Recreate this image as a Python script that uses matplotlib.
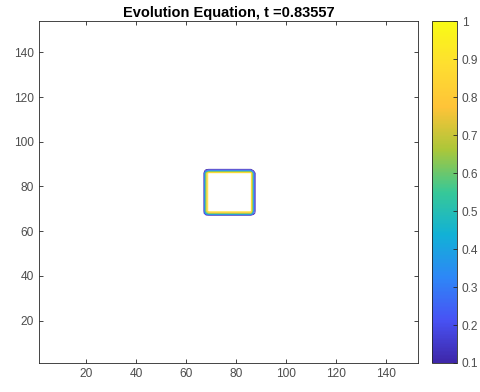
import numpy as np
import matplotlib
matplotlib.use("Agg")
import matplotlib.pyplot as plt
from matplotlib.colors import LinearSegmentedColormap, Normalize
import matplotlib.cm as cm

# grid and square
n_grid = 153
sq_lo = 67.8   # left / bottom edge of the square (grid units)
sq_hi = 86.8   # right / top edge
edge_w = 1.2   # width of the ramp at the edge
levels = [0.1, 0.2, 0.3, 0.4, 0.5, 0.6, 0.7, 0.8, 0.9]
cbar_ticks = [0.1, 0.2, 0.3, 0.4, 0.5, 0.6, 0.7, 0.8, 0.9, 1]
xticks = [20, 40, 60, 80, 100, 120, 140]
yticks = [20, 40, 60, 80, 100, 120, 140]
title = "Evolution Equation, t =0.83557"

# parula-ish colormap
parula_pts = [
    (0.2422, 0.1504, 0.6603),
    (0.2810, 0.3228, 0.9579),
    (0.1786, 0.5289, 0.9682),
    (0.0689, 0.6948, 0.8394),
    (0.2161, 0.7843, 0.5923),
    (0.6720, 0.7793, 0.2227),
    (0.9970, 0.7659, 0.2199),
    (0.9952, 0.8717, 0.1870),
    (0.9769, 0.9839, 0.0805),
]
parula = LinearSegmentedColormap.from_list("parula", parula_pts)

g = np.arange(1, n_grid + 1)
prof = np.clip((g - sq_lo) / edge_w + 0.5, 0, 1) * np.clip((sq_hi - g) / edge_w + 0.5, 0, 1)
X, Y = np.meshgrid(g, g)
U = np.outer(prof, prof)

plt.rcParams['font.family'] = ['Liberation Sans', 'DejaVu Sans']

fig = plt.figure(figsize=(4.8, 3.92), dpi=100)
ax = fig.add_axes([0.081, 0.074, 0.79, 0.872])
cax = fig.add_axes([0.9, 0.074, 0.052, 0.872])

norm = Normalize(vmin=0.1, vmax=1)
ax.contour(X, Y, U, levels=levels, cmap=parula, norm=norm, linewidths=0.6)
ax.set_xlim(1, 153)
ax.set_ylim(1, 154)
ax.set_xticks(xticks)
ax.set_yticks(yticks)
grey = (0.15, 0.15, 0.15)
lab = (0.3, 0.3, 0.3)
for a in (ax, cax):
    a.tick_params(direction='in', length=3, width=0.6, color=grey,
                  labelcolor=lab, labelsize=8.6)
    for s in a.spines.values():
        s.set_color(grey)
        s.set_linewidth(0.6)
ax.tick_params(top=True, right=True)
ax.set_title(title, fontsize=10.5, fontweight='bold', pad=3)

cb = fig.colorbar(cm.ScalarMappable(norm=norm, cmap=parula), cax=cax)
cb.set_ticks(cbar_ticks)
cb.set_ticklabels([f"{v:g}" for v in cbar_ticks])
cb.outline.set_edgecolor(grey)
cb.outline.set_linewidth(0.6)
cax.tick_params(direction='in', length=3, left=False, right=True)

fig.savefig("out.png", dpi=100)
